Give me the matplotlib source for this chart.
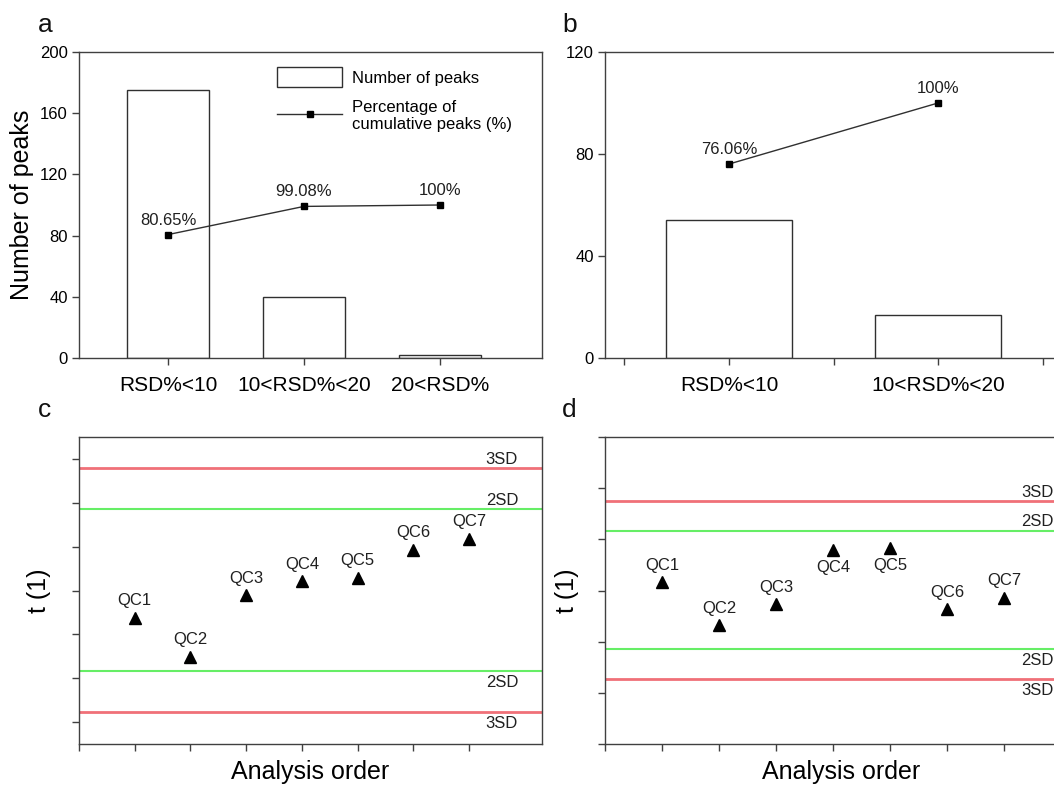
import matplotlib
matplotlib.use("Agg")
import matplotlib.pyplot as plt
from matplotlib.patches import Patch
from matplotlib.lines import Line2D

plt.rcParams['font.family'] = ['Liberation Sans', 'DejaVu Sans']

# data
cats_a = ['RSD%<10', '10<RSD%<20', '20<RSD%']
peaks_a = [175, 40, 2]
cum_a = [80.65, 99.08, 100]
cum_a_txt = ['80.65%', '99.08%', '100%']

cats_b = ['RSD%<10', '10<RSD%<20']
peaks_b = [54, 17]
cum_b = [76.06, 100]
cum_b_txt = ['76.06%', '100%']

qc_names = ['QC1', 'QC2', 'QC3', 'QC4', 'QC5', 'QC6', 'QC7']
t1_c = [-0.63, -1.51, -0.11, 0.21, 0.28, 0.92, 1.17]
sd2_c = [1.86, -1.83]
sd3_c = [2.79, -2.76]
lab_c = ['above'] * 7

t1_d = [0.16, -0.68, -0.27, 0.79, 0.83, -0.37, -0.14]
sd2_d = [1.17, -1.14]
sd3_d = [1.745, -1.72]
lab_d = ['above', 'above', 'above', 'below', 'below', 'above', 'above']

red = '#f07078'
green = '#66ee66'
spc = '#404040'

fig = plt.figure(figsize=(10.54, 7.87), dpi=100)

W, H = 1054, 787
def box(l, t, r, b):
    return [l / W, 1 - b / H, (r - l) / W, (b - t) / H]

def style(ax):
    for s in ax.spines.values():
        s.set_color(spc)
        s.set_linewidth(1)
    ax.tick_params(direction='out', color=spc, length=5, width=1)

# ---- a
ax = fig.add_axes(box(79, 52, 542, 358))
xa = [1, 2, 3]
ax.bar(xa, peaks_a, width=0.6, facecolor='white', edgecolor='#303030', linewidth=1)
ax.plot(xa, cum_a, color='#303030', lw=1, marker='s', ms=4.5, mfc='black', mec='black')
for x, y, s in zip(xa, cum_a, cum_a_txt):
    ax.annotate(s, (x, y), xytext=(0, 5), textcoords='offset points', ha='center', va='bottom', fontsize=12, color='#202020')
ax.set_xlim(0.346, 3.75)
ax.set_ylim(0, 200)
ax.set_yticks([0, 40, 80, 120, 160, 200])
ax.set_xticks(xa)
ax.set_xticklabels(cats_a, fontsize=15)
ax.tick_params(axis='y', labelsize=12, pad=3)
ax.tick_params(axis='x', pad=8)
style(ax)
ax.set_ylabel('Number of peaks', fontsize=18, labelpad=4)
h1 = Patch(facecolor='white', edgecolor='#303030', linewidth=1)
h2 = Line2D([], [], color='#303030', lw=1, marker='s', ms=4.5, mfc='black', mec='black')
leg = ax.legend([h1, h2], ['Number of peaks', 'Percentage of\ncumulative peaks (%)'],
                loc='upper left', bbox_to_anchor=(0.428, 0.95), frameon=False, fontsize=12,
                handlelength=3.9, handleheight=1.45, handletextpad=0.6, borderpad=0,
                borderaxespad=0, labelspacing=0.75)

# ---- b
ax = fig.add_axes(box(605, 52, 1062, 358))
xb = [1, 2]
ax.bar(xb, peaks_b, width=0.6, facecolor='white', edgecolor='#303030', linewidth=1)
ax.plot(xb, cum_b, color='#303030', lw=1, marker='s', ms=4.5, mfc='black', mec='black')
for x, y, s in zip(xb, cum_b, cum_b_txt):
    ax.annotate(s, (x, y), xytext=(0, 5), textcoords='offset points', ha='center', va='bottom', fontsize=12, color='#202020')
ax.set_xlim(0.407, 2.593)
ax.set_ylim(0, 120)
ax.set_yticks([0, 40, 80, 120])
ax.set_xticks([0.5, 1, 1.5, 2, 2.5])
ax.set_xticklabels(['', cats_b[0], '', cats_b[1], ''], fontsize=15)
ax.tick_params(axis='y', labelsize=12, pad=3)
ax.tick_params(axis='x', pad=8)
style(ax)

# ---- c, d
def qc_panel(rect, t1, sd2, sd3, labs, ylim, xmax, ylab_pad):
    ax = fig.add_axes(rect)
    xs = list(range(1, len(t1) + 1))
    for v in sd3:
        ax.axhline(v, color=red, lw=2)
    for v in sd2:
        ax.axhline(v, color=green, lw=1.5)
    ax.plot(xs, t1, ls='none', marker='^', ms=8, color='black')
    for x, y, s, p in zip(xs, t1, qc_names, labs):
        if p == 'above':
            ax.annotate(s, (x, y), xytext=(0, 7), textcoords='offset points', ha='center', va='bottom', fontsize=12, color='#202020')
        else:
            ax.annotate(s, (x, y), xytext=(0, -7), textcoords='offset points', ha='center', va='top', fontsize=12, color='#202020')
    for v, s in [(sd3[0], '3SD'), (sd2[0], '2SD')]:
        ax.annotate(s, (7.3, v), xytext=(0, 1), textcoords='offset points', ha='left', va='bottom', fontsize=12, color='#202020')
    for v, s in [(sd3[1], '3SD'), (sd2[1], '2SD')]:
        ax.annotate(s, (7.3, v), xytext=(0, -3), textcoords='offset points', ha='left', va='top', fontsize=12, color='#202020')
    ax.set_xlim(0, xmax)
    ax.set_ylim(*ylim)
    ax.set_xticks(range(0, 8))
    ax.set_yticks(range(-3, 4))
    ax.set_xticklabels([])
    ax.set_yticklabels([])
    style(ax)
    ax.set_xlabel('Analysis order', fontsize=18, labelpad=3)
    ax.set_ylabel('t (1)', fontsize=18, labelpad=ylab_pad)
    return ax

qc_panel(box(79, 437, 542, 744), t1_c, sd2_c, sd3_c, lab_c, (-3.5, 3.5), 8.31, 12)
qc_panel(box(605, 437, 1078, 744), t1_d, sd2_d, sd3_d, lab_d, (-3.0, 3.0), 8.3, 10)

for x, y, s in [(38, 25, 'a'), (562, 25, 'b'), (38, 410, 'c'), (562, 410, 'd')]:
    fig.text(x / W, 1 - y / H, s, fontsize=19, ha='left', va='center', color='#111111')

fig.savefig('out.png', dpi=100)
